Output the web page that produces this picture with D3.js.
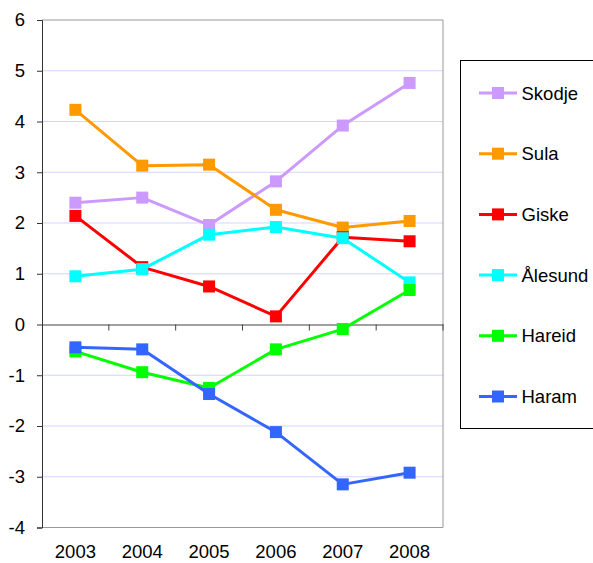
<!DOCTYPE html>
<html><head><meta charset="utf-8">
<script src="https://cdn.jsdelivr.net/npm/d3@7"></script>
<style>body{margin:0;background:#fff}svg{display:block;font-family:"Liberation Sans",Arial,sans-serif}</style>
</head><body>
<svg id="c" width="593" height="563"></svg>
<script>
const years = ["2003","2004","2005","2006","2007","2008"];
const seriesNames = ["Skodje","Sula","Giske","Ålesund","Hareid","Haram"];
const colors = ["#cc99ff","#ff9900","#ff0000","#00ffff","#00ff00","#3366ff"];
const skodje = [2.40,2.50,1.96,2.82,3.92,4.76];
const sula = [4.23,3.13,3.15,2.26,1.91,2.04];
const giske = [2.14,1.13,0.75,0.16,1.72,1.64];
const alesund = [0.95,1.09,1.77,1.92,1.70,0.83];
const hareid = [-0.53,-0.94,-1.25,-0.49,-0.09,0.68];
const haram = [-0.45,-0.49,-1.37,-2.12,-3.15,-2.92];
const yTicks = [-4,-3,-2,-1,0,1,2,3,4,5,6];

const allValues = [skodje,sula,giske,alesund,hareid,haram];
const FONT = "Liberation Sans, Arial, sans-serif";
const FS = 18.5;
const svg = d3.select("#c");
const L=42, R=443, T=20, B=527.5;
const x = d3.scaleBand().domain(years).range([L,R]);
const y = d3.scaleLinear().domain([-4,6]).range([B,T]);

// gridlines
svg.append("g").selectAll("line").data(yTicks.filter(v=>v!==0&&v!==-4&&v!==6)).join("line")
  .attr("x1",L).attr("x2",R).attr("y1",d=>y(d)).attr("y2",d=>y(d))
  .attr("stroke","#d4d4ff").attr("stroke-width",1);
// plot border
svg.append("path").attr("d",`M${L},${T}H${R}V${B}H${L}`).attr("fill","none").attr("stroke","#999").attr("stroke-width",1);

// y axis
const ya = svg.append("g").attr("transform",`translate(${L},0)`)
  .call(d3.axisLeft(y).tickValues(yTicks).tickSize(5).tickPadding(12).tickFormat(d=>String(d)));
ya.attr("font-family",FONT);
ya.select(".domain").attr("stroke","#333");
ya.selectAll(".tick line").attr("stroke","#333");
ya.selectAll("text").attr("font-size",FS).attr("fill","#000");

// x axis at zero
const xa = svg.append("g").attr("transform",`translate(0,${y(0)})`)
  .call(d3.axisBottom(x).tickSize(0).tickFormat(""));
xa.select(".domain").attr("stroke","#444").attr("stroke-width",1.2);
svg.append("g").selectAll("line").data(years).join("line")
  .attr("x1",d=>x(d)+x.bandwidth()).attr("x2",d=>x(d)+x.bandwidth())
  .attr("y1",y(0)).attr("y2",y(0)+6).attr("stroke","#444");
// x labels at bottom
svg.append("g").selectAll("text").data(years).join("text")
  .attr("x",d=>x(d)+x.bandwidth()/2).attr("y",558).attr("text-anchor","middle")
  .attr("font-size",FS).attr("fill","#000").text(d=>d);

// series
const line = d3.line().x((d,i)=>x(years[i])+x.bandwidth()/2).y(d=>y(d));
const ms = 12;
allValues.forEach((vals,si)=>{
  const g = svg.append("g");
  g.append("path").attr("d",line(vals)).attr("fill","none").attr("stroke",colors[si]).attr("stroke-width",3).attr("stroke-linejoin","round");
  g.selectAll("rect").data(vals).join("rect")
    .attr("x",(d,i)=>x(years[i])+x.bandwidth()/2-ms/2).attr("y",d=>y(d)-ms/2)
    .attr("width",ms).attr("height",ms).attr("fill",colors[si]);
});

// legend
const lg = svg.append("g");
lg.append("rect").attr("x",460.5).attr("y",60.5).attr("width",140).attr("height",368).attr("fill","#fff").attr("stroke","#000");
seriesNames.forEach((n,i)=>{
  const cy = 93 + i*60.7;
  lg.append("line").attr("x1",479).attr("x2",517).attr("y1",cy).attr("y2",cy).attr("stroke",colors[i]).attr("stroke-width",3);
  lg.append("rect").attr("x",498-6).attr("y",cy-6).attr("width",12).attr("height",12).attr("fill",colors[i]);
  lg.append("text").attr("x",521.5).attr("y",cy+6.5).attr("font-size",FS).attr("fill","#000").text(n);
});
</script>
</body></html>
